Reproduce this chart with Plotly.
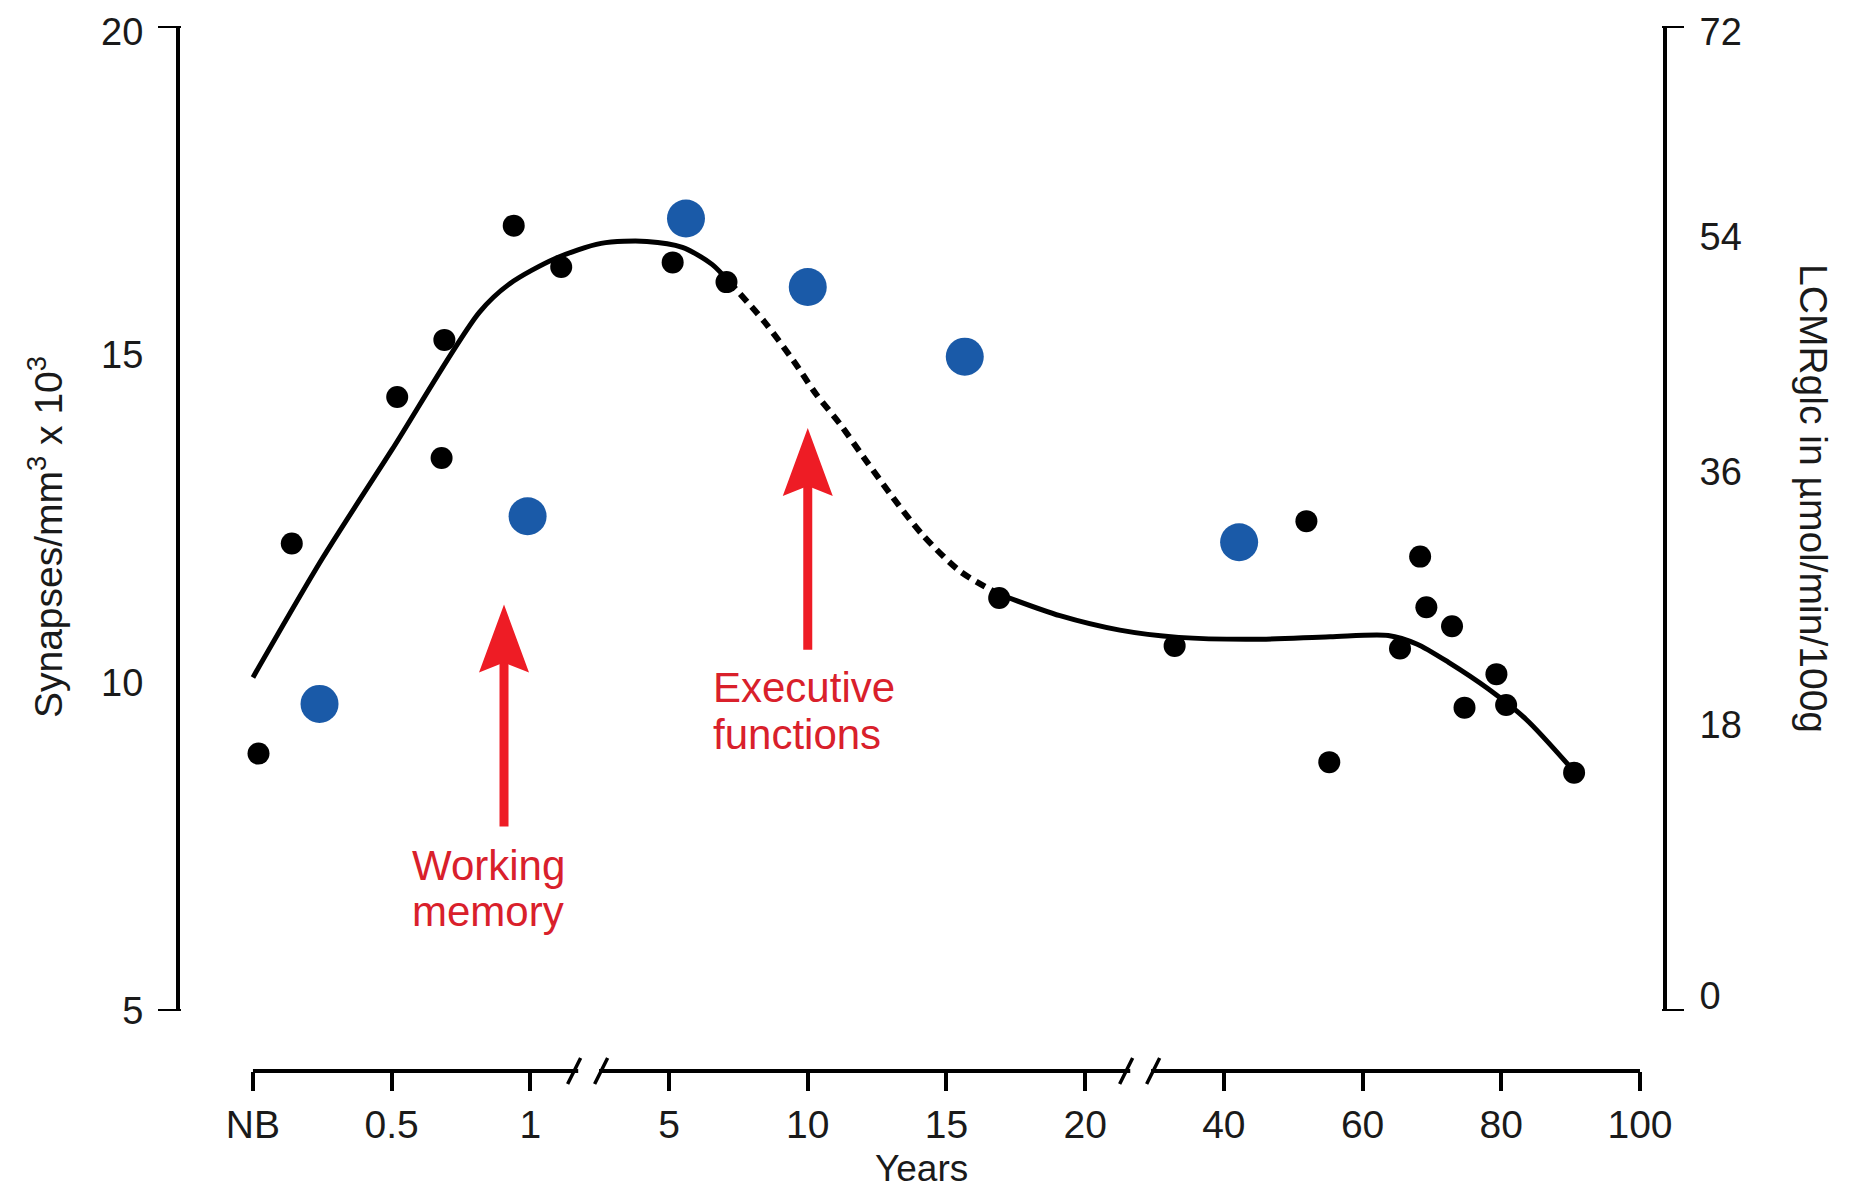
import numpy as np
import plotly.graph_objects as go

# ---------------- data ----------------
tick_ages = [0, 0.5, 1, 5, 10, 15, 20, 40, 60, 80, 100]
tick_labels = ["NB", "0.5", "1", "5", "10", "15", "20", "40", "60", "80", "100"]

# synapse density (black dots), synapses/mm3 x 10^3
black_age = [0.02, 0.14, 0.52, 0.69, 0.68, 0.94, 1.89, 5.13, 7.07, 16.9, 32.9,
             51.9, 55.2, 65.4, 68.3, 69.2, 72.9, 74.7, 79.3, 80.7, 90.5]
black_val = [8.92, 12.12, 14.35, 15.22, 13.42, 16.96, 16.33, 16.40, 16.10, 11.29, 10.56,
             12.46, 8.79, 10.52, 11.92, 11.15, 10.86, 9.62, 10.13, 9.66, 8.63]

# glucose metabolism (blue dots), LCMRglc in umol/min/100g
blue_age = [0.24, 0.99, 5.61, 10.0, 15.66, 42.2]
blue_val = [22.45, 36.17, 57.93, 52.92, 47.83, 34.27]

# fitted curve: solid (early), dotted (transition), solid (late)
curve_early_age = [0, 0.25, 0.5, 0.816, 0.927, 1.72, 3.04, 4.36, 5.48, 6.55, 7.15]
curve_early_val = [10.08, 11.89, 13.54, 15.64, 16.08, 16.46, 16.69, 16.72, 16.63, 16.37, 16.11]
curve_mid_age = [7.15, 8.41, 9.49, 10.29, 11.16, 12.02, 13.07, 14.12, 15.48, 16.88]
curve_mid_val = [16.11, 15.51, 14.90, 14.40, 13.94, 13.43, 12.82, 12.26, 11.70, 11.35]
curve_late_age = [16.88, 19.09, 25.0, 33.5, 44.2, 55.3, 63.7, 67.8, 72.4, 78.2, 83.6, 90.5]
curve_late_val = [11.35, 11.02, 10.80, 10.69, 10.66, 10.70, 10.72, 10.59, 10.31, 9.90, 9.44, 8.65]

left_tick_labels = ["5", "10", "15", "20"]
right_tick_labels = ["0", "18", "36", "54", "72"]

# annotations (age of arrow, tip value, tail value)
wm_arrow = (0.905, 11.19, 7.81)
ef_arrow = (10.0, 13.88, 10.50)


# ---------------- broken x scale (age -> axis position) ----------------
tick_pos = np.arange(len(tick_ages))


def xpos(ages):
    return np.interp(np.asarray(ages, dtype=float), tick_ages, tick_pos)


FONT = "Liberation Sans, Arial, Helvetica, sans-serif"
RED = "#ee1c25"
RED_TXT = "#d9202b"
BLUE = "#1a5aa8"
INK = "#1a1a1a"

fig = go.Figure()

fig.add_trace(go.Scatter(x=xpos(curve_early_age), y=curve_early_val, mode="lines",
                         line=dict(color="black", width=5, shape="spline", smoothing=0.8),
                         showlegend=False, hoverinfo="skip"))
fig.add_trace(go.Scatter(x=xpos(curve_mid_age), y=curve_mid_val, mode="lines",
                         line=dict(color="black", width=6, shape="spline", smoothing=0.8,
                                   dash="10px,7px"),
                         showlegend=False, hoverinfo="skip"))
fig.add_trace(go.Scatter(x=xpos(curve_late_age), y=curve_late_val, mode="lines",
                         line=dict(color="black", width=5, shape="spline", smoothing=0.8),
                         showlegend=False, hoverinfo="skip"))
fig.add_trace(go.Scatter(x=xpos(black_age), y=black_val, mode="markers",
                         marker=dict(color="black", size=22, line=dict(width=0)),
                         name="Synapses", showlegend=False))
fig.add_trace(go.Scatter(x=xpos(blue_age), y=blue_val, mode="markers", yaxis="y2",
                         marker=dict(color=BLUE, size=38, line=dict(width=0)),
                         name="LCMRglc", showlegend=False))

# ---------------- layout geometry ----------------
# (page body has an 8px margin, so the figure is drawn 8px smaller / shifted)
W, H = 1836, 1183
ml, mr, mt, mb = 172, 181, 18, 120
x_range = [-0.526, 10.166]
y_range = [5, 20]
y2_range = [0, 72]
y_dom0 = 0.0574

shapes = []
# end ticks of left / right axes
for v in y_range:
    shapes.append(dict(type="line", xref="paper", yref="y", xsizemode="pixel", xanchor=0,
                       x0=-22, x1=1, y0=v, y1=v, line=dict(color="black", width=4)))
for v in y2_range:
    shapes.append(dict(type="line", xref="paper", yref="y2", xsizemode="pixel", xanchor=1,
                       x0=-1, x1=21, y0=v, y1=v, line=dict(color="black", width=4)))

# broken x axis line
b1, b2 = 2.42, 6.40
g = 0.075
for a, b in [(0, b1 - g), (b1 + g, b2 - g), (b2 + g, 10)]:
    shapes.append(dict(type="line", xref="x", yref="paper", x0=a, x1=b, y0=0, y1=0,
                       line=dict(color="black", width=4)))
for bx in (b1, b2):
    shapes.append(dict(type="path", xref="x", yref="paper", xsizemode="pixel", ysizemode="pixel",
                       xanchor=bx, yanchor=0,
                       path="M-21,-13 L-8,13 M6,-13 L19,13",
                       line=dict(color="black", width=3.5)))

# red arrows
for age, tip, tail in (wm_arrow, ef_arrow):
    xp = float(xpos(age))
    shapes.append(dict(type="line", xref="x", yref="y", x0=xp, x1=xp, y0=tail, y1=tip - 0.8,
                       line=dict(color=RED, width=9)))
    shapes.append(dict(type="path", xref="x", yref="y", xsizemode="pixel", ysizemode="pixel",
                       xanchor=xp, yanchor=tip,
                       path="M0,0 L-25,-68 L0,-58 L25,-68 Z",
                       fillcolor=RED, line=dict(width=0)))

red_font = dict(family=FONT, size=42, color=RED_TXT)
annotations = [
    dict(text="Working", xref="x", yref="y", x=1.132, y=7.21,
         xanchor="left", yanchor="middle", showarrow=False, font=red_font),
    dict(text="memory", xref="x", yref="y", x=1.132, y=6.51,
         xanchor="left", yanchor="middle", showarrow=False, font=red_font),
    dict(text="Executive", xref="x", yref="y", x=3.302, y=9.93,
         xanchor="left", yanchor="middle", showarrow=False, font=red_font),
    dict(text="functions", xref="x", yref="y", x=3.302, y=9.21,
         xanchor="left", yanchor="middle", showarrow=False, font=red_font),
    dict(text="Synapses/mm<sup>3</sup> x 10<sup>3</sup>", xref="paper", yref="paper",
         x=-0.091, y=0.511, xanchor="center", yanchor="middle", textangle=-90, showarrow=False,
         font=dict(family=FONT, size=39, color=INK)),
    dict(text="LCMRglc in µmol/min/100g", xref="paper", yref="paper", x=1.1011, y=0.5474,
         xanchor="center", yanchor="middle", textangle=90, showarrow=False,
         font=dict(family=FONT, size=39, color=INK)),
    dict(text="Years", xref="paper", yref="paper", x=0.5, y=-0.0935,
         xanchor="center", yanchor="middle", showarrow=False,
         font=dict(family=FONT, size=37, color=INK)),
]

fig.update_layout(
    width=W, height=H,
    margin=dict(l=ml, r=mr, t=mt, b=mb, autoexpand=False),
    paper_bgcolor="white", plot_bgcolor="white",
    font=dict(family=FONT, color=INK),
    showlegend=False,
    xaxis=dict(range=x_range, tickmode="array", tickvals=list(tick_pos), ticktext=tick_labels,
               ticks="outside", ticklen=19, tickwidth=4, tickcolor="black",
               showline=False, showgrid=False, zeroline=False,
               anchor="free", position=0,
               tickfont=dict(family=FONT, size=39, color=INK)),
    yaxis=dict(range=y_range, domain=[y_dom0, 1], tickmode="array",
               tickvals=[5, 10, 15, 19.92], ticktext=left_tick_labels,
               ticks="outside", ticklen=25, tickcolor="rgba(0,0,0,0)",
               ticklabeloverflow="allow",
               showline=True, linewidth=4, linecolor="black",
               showgrid=False, zeroline=False,
               tickfont=dict(family=FONT, size=38, color=INK)),
    yaxis2=dict(range=y2_range, overlaying="y", side="right", anchor="x",
                tickmode="array", tickvals=[1.1, 20.9, 39.4, 56.6, 71.6], ticktext=right_tick_labels,
                ticks="outside", ticklen=25, tickcolor="rgba(0,0,0,0)",
                ticklabeloverflow="allow",
                showline=True, linewidth=4, linecolor="black",
                showgrid=False, zeroline=False,
                tickfont=dict(family=FONT, size=38, color=INK)),
    shapes=shapes,
    annotations=annotations,
)

fig.write_html("out.html")
